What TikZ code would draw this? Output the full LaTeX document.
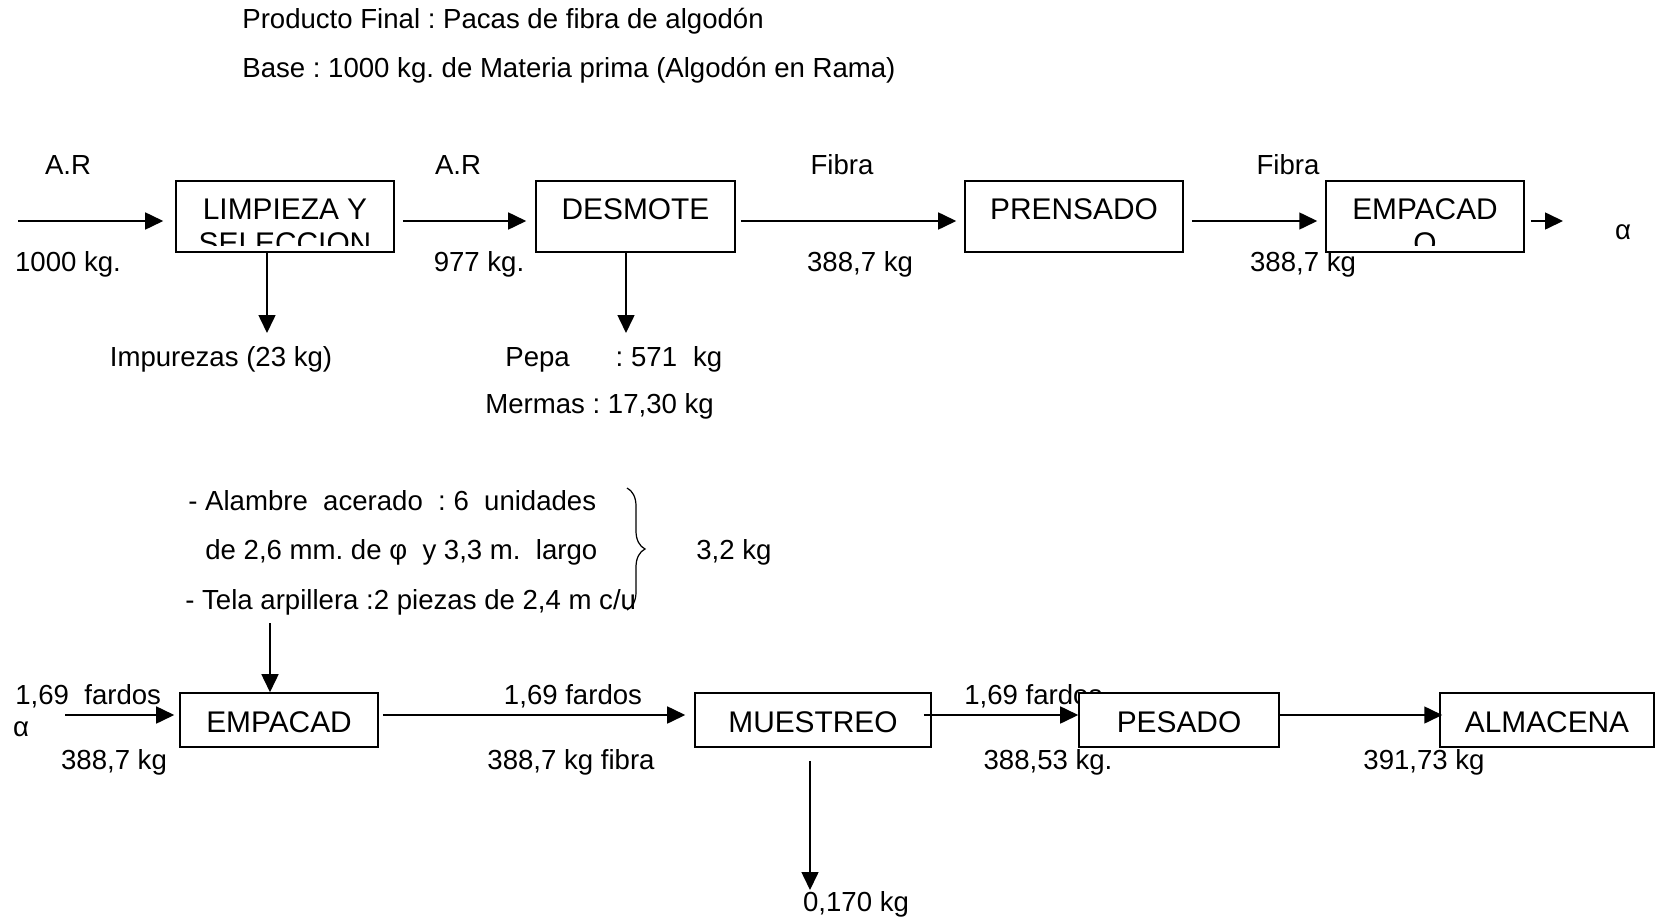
\documentclass[tikz,border=0pt]{standalone}
\usepackage{fontspec}
\setmainfont{Liberation Sans}
\frenchspacing
\usetikzlibrary{positioning,arrows.meta,calc,decorations.pathreplacing}

\begin{document}
\begin{tikzpicture}[x=0.02cm,y=-0.02cm,font=\fontsize{15.7}{18}\selectfont,
  proc/.style={draw,line width=0.9pt,fill=white,inner sep=0pt,minimum height=1.42cm,
    text height=0.76cm,text depth=0.66cm,font=\fontsize{17}{20}\selectfont},
  proclow/.style={proc,minimum height=1.08cm,text height=0.78cm,text depth=0.3cm},
  flow/.style={-{Triangle[length=3.6mm,width=3.4mm]},line width=0.9pt},
  lbl/.style={anchor=base,inner sep=0pt},
  lblw/.style={anchor=base west,inner sep=0pt},
]
\useasboundingbox (0,0) rectangle (1656,919);

% encabezado
\node[lblw] (prod) at (242,29) {Producto Final : Pacas de fibra de algodón};
\node[lblw] (basis) at (242,78) {Base : 1000 kg. de Materia prima (Algodón en Rama)};

% primera linea
\node[proc,minimum width=4.36cm] (limp) at (285,216.5) {LIMPIEZA Y};
\node[proc,minimum width=3.98cm] (desm) at (635.5,216.5) {DESMOTE};
\node[proc,minimum width=4.36cm] (pren) at (1074,216.5) {PRENSADO};
\node[proc,minimum width=3.96cm] (emp1) at (1425,216.5) {EMPACAD};
\begin{scope}
  \clip ($(limp.south west)+(0,-7)$) rectangle (limp.north east);
  \node[lbl,font=\fontsize{17}{20}\selectfont] (limp2) at ($(limp.base)+(0,34)$) {SELECCION};
\end{scope}
\begin{scope}
  \clip ($(emp1.south west)+(0,-7)$) rectangle (emp1.north east);
  \node[lbl,font=\fontsize{17}{20}\selectfont] (emp1b) at ($(emp1.base)+(0,34)$) {O};
\end{scope}

\coordinate (in1) at (18,221);
\coordinate (out1) at (1563,221);
\coordinate (imp) at (267,333);
\coordinate (pepa) at (626,333);
\draw[flow,shorten >=0.24cm] (in1) -- (limp.west |- in1);
\draw[flow,shorten <=0.16cm,shorten >=0.18cm] (limp.east |- in1) -- (desm.west |- in1);
\draw[flow,shorten <=0.1cm,shorten >=0.16cm] (desm.east |- in1) -- (pren.west |- in1);
\draw[flow,shorten <=0.16cm,shorten >=0.16cm] (pren.east |- in1) -- (emp1.west |- in1);
\draw[flow,shorten <=0.12cm] (emp1.east |- in1) -- (out1);
\draw[flow] (limp.south -| imp) -- (imp);
\draw[flow] (desm.south -| pepa) -- (pepa);

\node[lbl] (ar1) at (68,174) {A.R};
\node[lbl] (kg1) at (68,271) {1000 kg.};
\node[lbl] (ar2) at (458,174) {A.R};
\node[lbl] (kg2) at (479,271) {977 kg.};
\node[lbl] (fib1) at (842,174) {Fibra};
\node[lbl] (kg3) at (860,271) {388,7 kg};
\node[lbl] (fib2) at (1288,174) {Fibra};
\node[lbl] (kg4) at (1303,271) {388,7 kg};
\node[lbl] (alfa1) at (1623,239) {α};
\node[lbl] (imptxt) at (221,366) {Impurezas (23 kg)};
\node[lblw] (pepatxt) at (505,366) {Pepa\hspace{0.92cm}: 571\hspace{0.32cm}kg};
\node[lblw] (merm) at (485,413) {Mermas : 17,30 kg};

% insumos
\node[lblw] (mat1) at (188,510) {- Alambre\ \ acerado\ \ : 6\ \ unidades};
\node[lblw] (mat2) at (205,559) {de 2,6 mm. de φ\ \ y 3,3 m.\ \ largo};
\node[lblw] (mat3) at (185,609) {- Tela arpillera :2 piezas de 2,4 m c/u};
\node[lblw] (peso) at (696,559) {3,2 kg};
\coordinate (brtop) at (627,488);
\coordinate (brbot) at (627,610);
\draw[line width=0.7pt,decorate,decoration={brace,amplitude=0.36cm}] (brtop) -- (brbot);

% segunda linea
\node[lblw] (far1) at (15,704) {1,69\ \ fardos};
\node[lbl] (alfa2) at (21,736) {α};
\node[lbl] (kg5) at (114,769) {388,7 kg};
\node[lbl] (far2) at (573,704) {1,69 fardos};
\node[lbl] (kg6) at (571,769) {388,7 kg fibra};
\node[lblw] (far3) at (964,704) {1,69 fardos};
\node[lbl] (kg7) at (1048,769) {388,53 kg.};
\node[lbl] (kg8) at (1424,769) {391,73 kg};
\node[lbl] (kg9) at (856,911) {0,170 kg};

\node[proclow,minimum width=3.96cm] (emp2) at (279,720) {EMPACAD};
\node[proclow,minimum width=4.72cm] (mues) at (813,720) {MUESTREO};
\node[proclow,minimum width=4.0cm] (pes) at (1179,720) {PESADO};
\node[proclow,minimum width=4.28cm] (alm) at (1547,720) {ALMACENA};

\coordinate (supp) at (270,623);
\coordinate (in2) at (65,715);
\coordinate (samp) at (810,890);
\draw[flow] (supp) -- (emp2.north -| supp);
\draw[flow,shorten >=0.1cm] (in2) -- (emp2.west |- in2);
\draw[flow,shorten <=0.08cm,shorten >=0.18cm] (emp2.east |- in2) -- (mues.west |- in2);
\draw[flow,shorten <=-0.16cm] (mues.east |- in2) -- (pes.west |- in2);
\draw[flow,shorten >=-0.06cm] (pes.east |- in2) -- (alm.west |- in2);
\draw[flow,shorten <=0.26cm] (mues.south -| samp) -- (samp);
\end{tikzpicture}
\end{document}
